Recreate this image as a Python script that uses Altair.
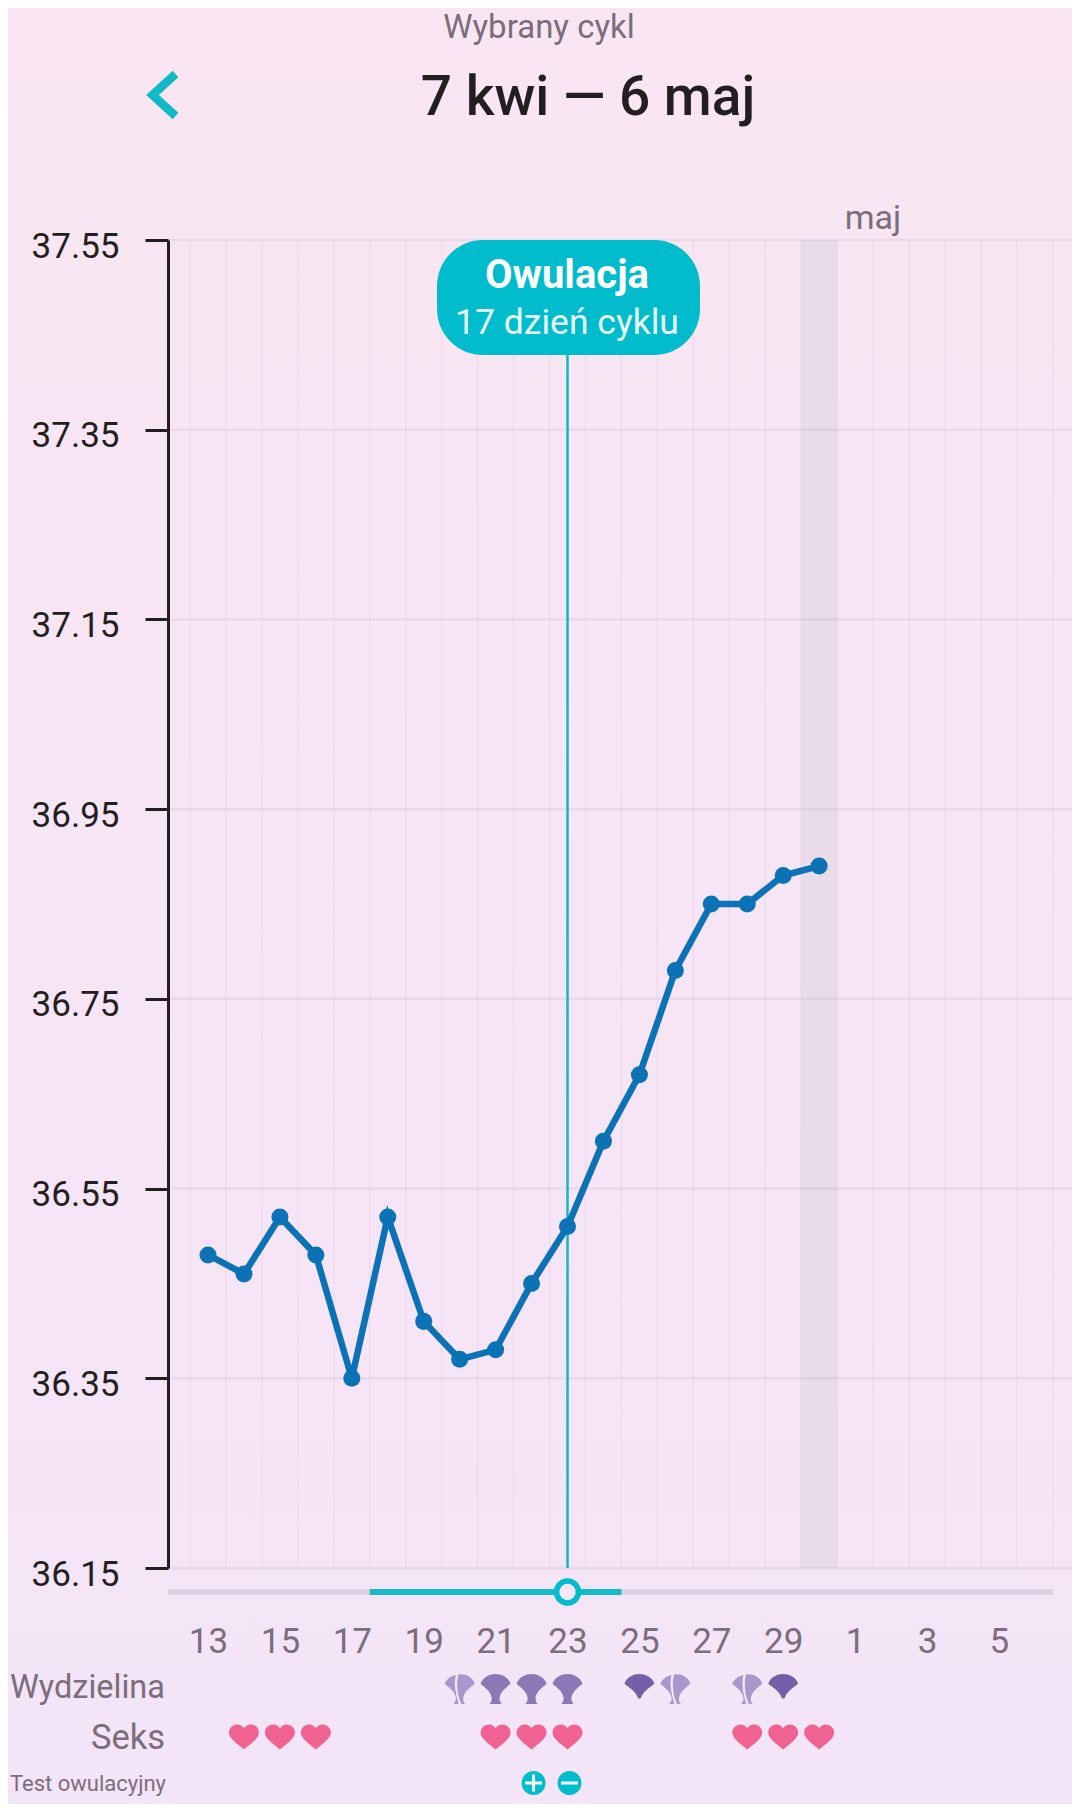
import altair as alt
import pandas as pd

days = list(range(13, 31))
temps = [36.48, 36.46, 36.52, 36.48, 36.35, 36.52, 36.41, 36.37, 36.38, 36.45,
         36.51, 36.60, 36.67, 36.78, 36.85, 36.85, 36.88, 36.89]
y_ticks = [36.15, 36.35, 36.55, 36.75, 36.95, 37.15, 37.35, 37.55]
x_ticks = [13, 15, 17, 19, 21, 23, 25, 27, 29, 31, 33, 35]
grid_days = [d + 0.5 for d in range(12, 37)]
ovulation_day = 23
period_band = [29.5, 30.5]
fertile = [17.5, 24.5]
track = [11.887, 36.5]
hearts = [14, 15, 16, 21, 22, 23, 28, 29, 30]
mucus_light = [20, 26, 28]
mucus_mid = [21, 22, 23]
mucus_dark = [25, 29]
test_plus = [22]
test_minus = [23]

TEAL = "#00BCCC"
GREY = "#7B6E7C"
DARK = "#231F20"
FONT = "Roboto"

HEART = ("M0,0.84 C-0.2,0.6 -1,0.18 -1,-0.3 C-1,-0.66 -0.68,-0.84 -0.45,-0.84 "
         "C-0.24,-0.84 -0.07,-0.72 0,-0.56 C0.07,-0.72 0.24,-0.84 0.45,-0.84 "
         "C0.68,-0.84 1,-0.66 1,-0.3 C1,0.18 0.2,0.6 0,0.84 Z")
FAN = ("M-1,-0.35 C-0.7,-1.22 0.7,-1.22 1,-0.35 C0.65,-0.05 0.3,0.2 0.26,0.6 "
       "C0.26,0.8 0.32,0.92 0.42,1 L-0.42,1 C-0.32,0.92 -0.26,0.8 -0.26,0.6 "
       "C-0.3,0.2 -0.65,-0.05 -1,-0.35 Z")
CONE = ("M-1,-0.35 C-0.7,-1.22 0.7,-1.22 1,-0.35 C0.6,-0.05 0.25,0.2 0.12,0.55 "
        "C0.06,0.68 -0.06,0.68 -0.12,0.55 C-0.25,0.2 -0.6,-0.05 -1,-0.35 Z")
SPLIT = ("M-1,-0.35 C-0.85,-0.7 -0.55,-0.88 -0.25,-0.92 C-0.42,-0.4 -0.26,0.3 -0.08,1 "
         "L-0.42,1 C-0.3,0.9 -0.25,0.8 -0.25,0.6 C-0.3,0.2 -0.65,-0.05 -1,-0.35 Z "
         "M-0.08,-0.97 C0.4,-1.02 0.85,-0.8 1,-0.35 C0.65,-0.05 0.3,0.2 0.24,0.6 "
         "C0.22,0.8 0.27,0.92 0.38,1 L0.12,1 C-0.15,0.45 -0.25,-0.4 -0.08,-0.97 Z")
PLUS = "M-0.18,-1 L0.18,-1 L0.18,-0.18 L1,-0.18 L1,0.18 L0.18,0.18 L0.18,1 L-0.18,1 L-0.18,0.18 L-1,0.18 L-1,-0.18 L-0.18,-0.18 Z"
MINUS = "M-1,-0.18 L1,-0.18 L1,0.18 L-1,0.18 Z"
CHEVRON = "M0.55,-1 L-0.55,0 L0.55,1"

X0, Y0, W, H = 168, 240, 904, 1328
x_scale = alt.Scale(domain=[11.887, 37.033], nice=False, zero=False)
y_scale = alt.Scale(domain=[36.15, 37.55], nice=False, zero=False)

x_axis = alt.Axis(values=x_ticks, labelExpr="datum.value > 30 ? datum.value - 30 : datum.value",
                  title=None, grid=False, domain=False, ticks=False, labelFont=FONT, labelFontSize=35,
                  labelColor=GREY, labelPadding=56, labelFlush=False, labelOverlap=False, zindex=1)
y_axis = alt.Axis(values=y_ticks, format=".2f", title=None, grid=False, domainColor=DARK, domainWidth=3,
                  tickColor=DARK, tickWidth=3, tickSize=23, labelFont=FONT, labelFontSize=35,
                  labelColor=DARK, labelPadding=26, labelOffset=6, labelFlush=False, labelOverlap=False, zindex=1)


def X(field):
    return alt.X(field, scale=x_scale, axis=x_axis)


def Y(field):
    return alt.Y(field, scale=y_scale, axis=y_axis)


def px(v):
    return alt.value(v - X0)


def py(v):
    return alt.value(v - Y0)


def label(text, x, y, size, color=GREY, align="center", weight=400):
    return alt.Chart(alt.Data(values=[{"t": text}])).mark_text(
        font=FONT, fontSize=size, color=color, align=align, baseline="middle", fontWeight=weight
    ).encode(text="t:N", x=px(x), y=py(y))


def xs(values):
    return pd.DataFrame({"d": values})


def symbols(values, shape, size, color, y, dx=0):
    return alt.Chart(xs(values)).mark_point(
        shape=shape, size=size, filled=True, fill=color, opacity=1, strokeWidth=0, xOffset=dx
    ).encode(x=X("d:Q"), y=py(y))


def span(a, b, color, y, width):
    return alt.Chart(pd.DataFrame({"a": [a], "b": [b]})).mark_rule(
        color=color, strokeWidth=width
    ).encode(x=X("a:Q"), x2="b:Q", y=py(y))


background = alt.Chart(alt.Data(values=[{}])).mark_rect(
    fill=alt.Gradient(
        gradient="linear", x1=0, y1=0, x2=0, y2=1,
        stops=[alt.GradientStop(color="#F9E6F2", offset=0),
               alt.GradientStop(color="#F3E4F7", offset=1)],
    )
).encode(x=alt.value(-160), x2=alt.value(W), y=alt.value(-232), y2=alt.value(H + 236))

band = alt.Chart(pd.DataFrame({"a": [period_band[0]], "b": [period_band[1]]})).mark_rect(
    color="#E9DBE9"
).encode(x=X("a:Q"), x2="b:Q", y=alt.value(0), y2=alt.value(H))

v_grid = alt.Chart(xs(grid_days)).mark_rule(color="#8A6F8A", opacity=0.07, strokeWidth=1.5).encode(
    x=X("d:Q"), y=alt.value(0), y2=alt.value(H)
)
h_grid = alt.Chart(pd.DataFrame({"v": y_ticks})).mark_rule(color="#8A6F8A", opacity=0.1, strokeWidth=2.5).encode(
    y=Y("v:Q"), x=alt.value(0), x2=alt.value(W)
)

ov_rule = alt.Chart(xs([ovulation_day])).mark_rule(color="#12B6C6", strokeWidth=2.5).encode(
    x=X("d:Q"), y=py(300), y2=alt.value(H)
)
bubble = alt.Chart(alt.Data(values=[{}])).mark_rect(color=TEAL, cornerRadius=46).encode(
    x=px(437), x2=px(700), y=py(240), y2=py(355)
)

base = alt.Chart(pd.DataFrame({"day": days, "temp": temps}))
line = base.mark_line(color="#0A72B5", strokeWidth=6.5).encode(x=X("day:Q"), y=Y("temp:Q"))
dots = base.mark_circle(color="#0A72B5", size=290, opacity=1).encode(x=X("day:Q"), y=Y("temp:Q"))

handle = alt.Chart(xs([ovulation_day])).mark_circle(
    fill="#F6E6F7", stroke=TEAL, strokeWidth=5.5, size=480, opacity=1
).encode(x=X("d:Q"), y=py(1592))

test_dots = alt.Chart(xs(test_plus + test_minus)).mark_circle(color=TEAL, size=573, opacity=1, xOffset=2).encode(
    x=X("d:Q"), y=py(1783)
)

chevron = alt.Chart(alt.Data(values=[{}])).mark_point(
    shape=CHEVRON, size=1764, filled=False, stroke="#12B9C8", strokeWidth=8.5, opacity=1
).encode(x=px(164), y=py(95))

chart = alt.layer(
    background, band, v_grid, h_grid, ov_rule, bubble, line, dots,
    span(track[0], track[1], "#DCCFE2", 1592, 6),
    span(fertile[0], fertile[1], "#14BAC8", 1592, 6),
    handle,
    symbols(mucus_light, SPLIT, 900, "#A897CB", 1689),
    symbols(mucus_mid, FAN, 900, "#8A79B6", 1689),
    symbols(mucus_dark, CONE, 900, "#7460A8", 1689),
    symbols(hearts, HEART, 900, "#F06292", 1737),
    test_dots,
    symbols(test_plus, PLUS, 289, "#F3FBFB", 1783, dx=2),
    symbols(test_minus, MINUS, 289, "#F3FBFB", 1783, dx=2),
    chevron,
    label("Wybrany cykl", 539, 28, 33),
    label("7 kwi — 6 maj", 588, 98, 55, color=DARK, weight=500),
    label("maj", 873, 219, 34),
    label("Owulacja", 567, 276, 40, color="white", weight=700),
    label("17 dzień cyklu", 567, 323, 35.5, color="#E8FAFB"),
    label("Wydzielina", 165, 1688, 32.5, align="right"),
    label("Seks", 165, 1739, 34.5, align="right"),
    label("Test owulacyjny", 166, 1784, 22, align="right"),
).properties(
    width=W, height=H,
    padding={"left": 160, "top": 232, "right": 0, "bottom": 236},
    autosize=alt.AutoSizeParams(type="none"),
    background="#F6E5F5",
).configure_view(strokeWidth=0)

chart.save("out.html", embed_options={"renderer": "svg", "actions": False})
